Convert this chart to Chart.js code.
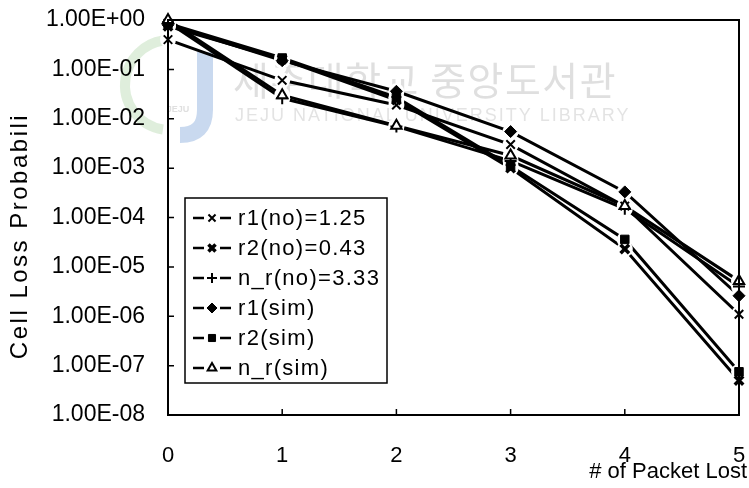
<!DOCTYPE html>
<html>
<head>
<meta charset="utf-8">
<script src="https://cdn.jsdelivr.net/npm/chart.js@4.4.1/dist/chart.umd.min.js"></script>
<style>
  body { margin: 0; background: #fff; }
  #wrap { width: 749px; height: 488px; position: relative; }
</style>
</head>
<body>
<div id="wrap"><canvas id="chart"></canvas></div>
<script>
// packets lost (x) and cell loss probability per series
const xValues = [0, 1, 2, 3, 4, 5]
const xTickLabels = ['0', '1', '2', '3', '4', '5']
const yTickValues = [1e-8, 1e-7, 1e-6, 1e-5, 1e-4, 1e-3, 1e-2, 1e-1, 1]
const yTickLabels = ['1.00E-08', '1.00E-07', '1.00E-06', '1.00E-05', '1.00E-04', '1.00E-03', '1.00E-02', '1.00E-01', '1.00E+00']

const seriesNames = ['r1(no)=1.25', 'r2(no)=0.43', 'n_r(no)=3.33', 'r1(sim)', 'r2(sim)', 'n_r(sim)']
const r1No = [0.4, 0.06, 0.019, 3.0e-3, 1.7e-4, 1.1e-6]
const r2No = [0.75, 0.16, 0.024, 1.0e-3, 2.3e-5, 5e-8]
const nrNo = [0.9, 0.026, 0.007, 1.4e-3, 1.5e-4, 4e-6]
const r1Sim = [0.8, 0.15, 0.036, 5.5e-3, 3.3e-4, 2.6e-6]
const r2Sim = [0.85, 0.17, 0.027, 1.1e-3, 3.6e-5, 7.5e-8]
const nrSim = [1.0, 0.03, 0.0072, 1.8e-3, 1.7e-4, 5.2e-6]

const FONT = '"Liberation Sans", Arial, sans-serif'

function toPoints(arr) {
  return xValues.map((x, i) => ({ x, y: arr[i] }))
}

const styles = [
  { pointStyle: 'crossRot', pointBorderWidth: 2, pointBackgroundColor: '#000' },
  { pointStyle: 'crossRot', pointBorderWidth: 3.5, pointBackgroundColor: '#000' },
  { pointStyle: 'cross', pointBorderWidth: 2, pointBackgroundColor: '#000' },
  { pointStyle: 'rectRot', pointBorderWidth: 1, pointBackgroundColor: '#000' },
  { pointStyle: 'rect', pointBorderWidth: 1, pointBackgroundColor: '#000' },
  { pointStyle: 'triangle', pointBorderWidth: 2, pointBackgroundColor: '#fff' },
]
const allSeries = [r1No, r2No, nrNo, r1Sim, r2Sim, nrSim]

const datasets = allSeries.map((arr, i) => ({
  label: seriesNames[i],
  data: toPoints(arr),
  borderColor: '#000',
  borderWidth: 3,
  pointBorderColor: '#000',
  pointRadius: 6,
  tension: 0,
  ...styles[i],
}))

// faint library watermark, behind everything
const watermark = {
  id: 'watermark',
  beforeDraw(chart) {
    const ctx = chart.ctx
    ctx.save()
    // logo: green arc + blue J
    ctx.strokeStyle = 'rgba(150,200,140,0.3)'
    ctx.lineWidth = 10
    ctx.beginPath()
    ctx.arc(170, 85, 45, Math.PI * 0.55, Math.PI * 1.45)
    ctx.stroke()
    ctx.strokeStyle = 'rgba(120,160,215,0.4)'
    ctx.lineWidth = 16
    ctx.beginPath()
    ctx.moveTo(205, 52)
    ctx.lineTo(205, 110)
    ctx.quadraticCurveTo(205, 135, 180, 135)
    ctx.stroke()
    ctx.fillStyle = 'rgba(150,150,150,0.3)'
    ctx.font = 'bold 9px ' + FONT
    ctx.textAlign = 'center'
    ctx.fillText('JEJU', 178, 112)
    // text
    ctx.fillStyle = 'rgba(175,175,175,0.4)'
    ctx.textAlign = 'left'
    ctx.textBaseline = 'middle'
    ctx.font = '39px "Noto Sans CJK KR", sans-serif'
    ctx.letterSpacing = '1.5px'
    ctx.fillText('제주대학교 중앙도서관', 233, 80)
    ctx.fillStyle = 'rgba(175,175,175,0.35)'
    ctx.font = '18px ' + FONT
    ctx.letterSpacing = '2px'
    ctx.fillText('JEJU NATIONAL UNIVERSITY LIBRARY', 235, 116)
    ctx.restore()
  },
}

// white gap around each marker, then redraw markers on top
const halo = {
  id: 'halo',
  afterDatasetsDraw(chart) {
    const ctx = chart.ctx
    ctx.save()
    ctx.fillStyle = '#fff'
    chart.data.datasets.forEach((ds, i) => {
      chart.getDatasetMeta(i).data.forEach((pt) => {
        ctx.beginPath()
        ctx.arc(pt.x, pt.y, 8, 0, Math.PI * 2)
        ctx.fill()
      })
    })
    ctx.restore()
    chart.data.datasets.forEach((ds, i) => {
      chart.getDatasetMeta(i).data.forEach((pt) => pt.draw(ctx, chart.chartArea))
    })
  },
}

// frame, inner ticks, axis titles and legend box
const decor = {
  id: 'decor',
  afterDraw(chart) {
    const ctx = chart.ctx
    const { left, right, top, bottom } = chart.chartArea
    const xs = chart.scales.x
    const ys = chart.scales.y
    ctx.save()
    ctx.strokeStyle = '#000'
    ctx.lineWidth = 2
    ctx.strokeRect(left, top, right - left, bottom - top)
    ctx.lineWidth = 1.5
    ctx.beginPath()
    xValues.slice(1, -1).forEach((v) => {
      const px = xs.getPixelForValue(v)
      ctx.moveTo(px, bottom)
      ctx.lineTo(px, bottom - 6)
    })
    yTickValues.slice(1, -1).forEach((v) => {
      const py = ys.getPixelForValue(v)
      ctx.moveTo(left, py)
      ctx.lineTo(left + 6, py)
    })
    ctx.stroke()

    ctx.fillStyle = '#000'
    ctx.textBaseline = 'middle'
    // x title
    ctx.font = '22px ' + FONT
    ctx.textAlign = 'right'
    ctx.fillText('# of Packet Lost', 747, 472)
    // y title
    ctx.save()
    ctx.translate(20, 236)
    ctx.rotate(-Math.PI / 2)
    ctx.textAlign = 'center'
    ctx.font = '24px ' + FONT
    ctx.letterSpacing = '2.5px'
    ctx.fillText('Cell Loss Probabili', 0, 0)
    ctx.restore()

    // legend
    const bx = left + 17
    const by = top + 178
    const bw = 202
    const bh = 185
    ctx.fillStyle = '#fff'
    ctx.fillRect(bx, by, bw, bh)
    ctx.lineWidth = 1.5
    ctx.strokeRect(bx, by, bw, bh)
    chart.data.datasets.forEach((ds, i) => {
      const cy = by + 20 + i * 30
      ctx.strokeStyle = '#000'
      ctx.lineWidth = 2.5
      ctx.beginPath()
      ctx.moveTo(bx + 8, cy)
      ctx.lineTo(bx + 46, cy)
      ctx.stroke()
      ctx.fillStyle = '#fff'
      ctx.fillRect(bx + 19, cy - 7, 16, 14)
      ctx.fillStyle = ds.pointBackgroundColor
      ctx.strokeStyle = '#000'
      ctx.lineWidth = ds.pointBorderWidth
      Chart.helpers.drawPoint(ctx, { pointStyle: ds.pointStyle, radius: 5, rotation: 0, borderWidth: ds.pointBorderWidth }, bx + 27, cy)
      ctx.fillStyle = '#000'
      ctx.textAlign = 'left'
      ctx.font = '22px ' + FONT
      ctx.letterSpacing = '1.3px'
      ctx.fillText(ds.label, bx + 53, cy + 1)
    })
    ctx.restore()
  },
}

// invisible tick marks push the labels away from the axis without adding edge padding
const hiddenTicks = (len) => ({
  display: true,
  drawOnChartArea: false,
  drawTicks: true,
  tickLength: len,
  tickColor: 'rgba(0,0,0,0)',
})

new Chart(document.getElementById('chart'), {
  type: 'line',
  data: { datasets },
  options: {
    responsive: true,
    maintainAspectRatio: false,
    animation: false,
    layout: { padding: { left: 0, top: 20, right: 10, bottom: 0 } },
    plugins: {
      legend: { display: false },
      tooltip: { enabled: false },
    },
    scales: {
      x: {
        type: 'linear',
        min: 0,
        max: 5,
        grid: hiddenTicks(26),
        border: { display: false },
        afterFit: (scale) => { scale.height = 73 },
        afterBuildTicks: (scale) => { scale.ticks = xValues.map((v) => ({ value: v })) },
        ticks: {
          padding: 2,
          color: '#000',
          font: { family: FONT, size: 22 },
          callback: (value) => xTickLabels[xValues.indexOf(value)],
        },
      },
      y: {
        type: 'logarithmic',
        min: 1e-8,
        max: 1,
        grid: hiddenTicks(21),
        border: { display: false },
        afterFit: (scale) => { scale.width = 168 },
        afterBuildTicks: (scale) => { scale.ticks = yTickValues.map((v) => ({ value: v })) },
        ticks: {
          padding: 2,
          color: '#000',
          font: { family: FONT, size: 23 },
          callback: (value) => yTickLabels[yTickValues.indexOf(value)],
        },
      },
    },
  },
  plugins: [watermark, halo, decor],
})
</script>
</body>
</html>
